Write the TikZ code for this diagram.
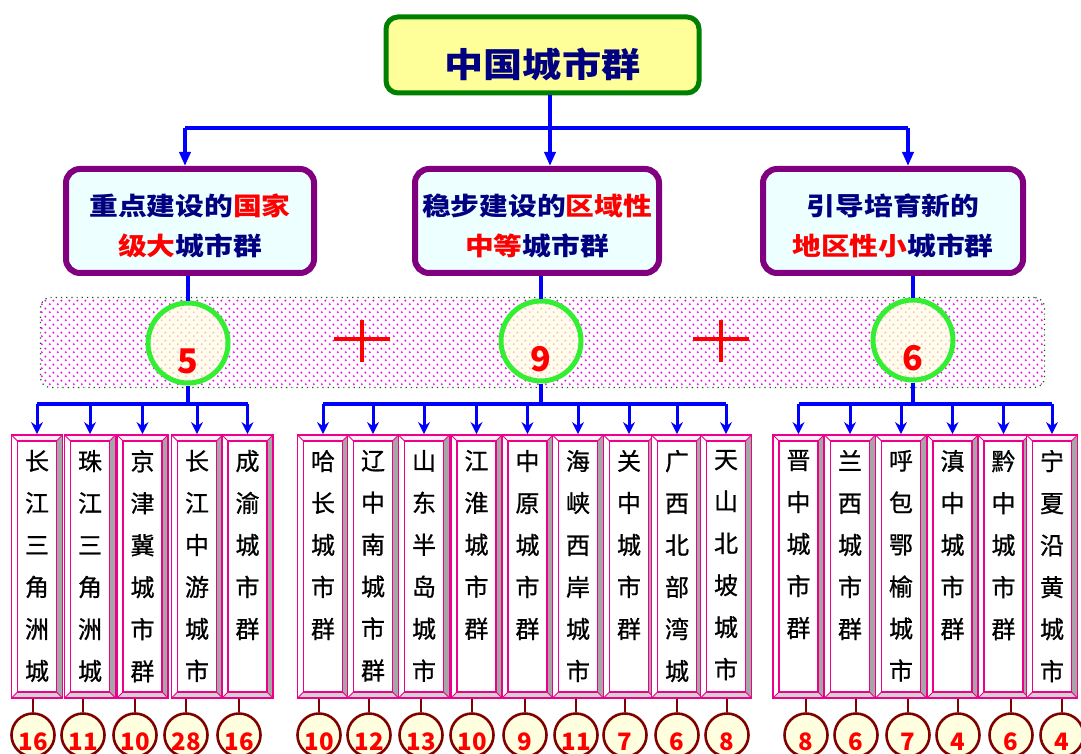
\documentclass[tikz,border=0pt]{standalone}
\usepackage{fontspec}
\setmainfont{Noto Sans CJK SC}
\newfontfamily\headfont{Noto Sans CJK SC}[FakeStretch=1.15]
\newfontfamily\cityfont{Noto Sans CJK SC}[FakeBold=0.8]
\XeTeXlinebreaklocale "zh"
\XeTeXlinebreakskip=0pt plus 1pt
\usepackage{tikz}
\usetikzlibrary{arrows.meta, patterns, positioning}

\definecolor{navy}{HTML}{000080}
\definecolor{titlegreen}{HTML}{008000}
\definecolor{titlefill}{HTML}{FFFF99}
\definecolor{catpurple}{HTML}{800080}
\definecolor{catfill}{HTML}{EEFFFF}
\definecolor{ringgreen}{HTML}{33EE33}
\definecolor{ivory}{HTML}{FFFFE0}
\definecolor{stemred}{HTML}{800000}
\definecolor{linkblue}{HTML}{0000FF}

% dotted fill of the band
\pgfdeclarepatternformonly{pinkdots}{\pgfpointorigin}{\pgfqpoint{4pt}{4pt}}{\pgfqpoint{4pt}{4pt}}{%
  \pgfpathcircle{\pgfqpoint{1pt}{1pt}}{0.6pt}%
  \pgfpathcircle{\pgfqpoint{3pt}{3pt}}{0.6pt}%
  \pgfusepath{fill}}

\newcommand{\catstrut}{\rule{0pt}{16pt}}

\begin{document}
\begin{tikzpicture}[
  x=0.5pt, y=-0.5pt,
  topbox/.style={rectangle, rounded corners=6pt, draw=titlegreen, line width=2.5pt, fill=titlefill,
    minimum width=156.5pt, minimum height=38pt, text=navy, text height=23pt, text depth=0pt,
    font=\headfont\bfseries\fontsize{17}{17}\selectfont},
  catbox/.style={rectangle, rounded corners=7pt, draw=catpurple, line width=3pt, fill=catfill,
    minimum height=52pt, text=navy, align=center,
    font=\headfont\bfseries\fontsize{12.5}{20}\selectfont},
  band/.style={rectangle, rounded corners=5pt, draw=green!40!black, dotted, line width=0.6pt,
    pattern=pinkdots, pattern color=magenta, minimum width=502pt, minimum height=45pt},
  ring/.style={circle, draw=ringgreen, line width=2.5pt, fill=ivory, fill opacity=0.7, minimum size=40pt},
  ringnum/.style={text=red, font=\bfseries\fontsize{17}{17}\selectfont},
  plus/.style={red, line width=2pt},
  citybox/.style={rectangle, draw=magenta, line width=0.9pt, fill=white, minimum width=25.5pt,
    minimum height=131.5pt, inner xsep=0pt, inner ysep=7.5pt, font=\cityfont\fontsize{12}{21}\selectfont,
    path picture={
      \path (path picture bounding box.south west) coordinate (sw)
            (path picture bounding box.north east) coordinate (ne);
      \path (sw) ++(3pt,3pt) coordinate (isw) (ne) ++(-3pt,-3pt) coordinate (ine);
      \fill[gray!70] (ne) -- (ne |- sw) -- (ine |- isw) -- (ine) -- cycle;
      \fill[gray!35] (sw) -- (ne |- sw) -- (ine |- isw) -- (isw) -- cycle;
      \fill[magenta!6] (sw |- ne) -- (ne) -- (ine) -- (isw |- ine) -- cycle;
      \draw[magenta, line width=0.9pt] (isw) rectangle (ine);
      \draw[magenta, line width=0.4pt] (sw) -- (isw) (ne) -- (ine) (sw |- ne) -- (isw |- ine) (ne |- sw) -- (ine |- isw);
    }},
  countcirc/.style={circle, draw=stemred, line width=1.3pt, fill=ivory, minimum size=21.5pt},
  counttext/.style={text=red, font=\bfseries\fontsize{12}{12}\selectfont},
  link/.style={linkblue, line width=2pt},
  toparrow/.style={linkblue, line width=2pt, -{Triangle[length=7pt, width=5.5pt]}},
  cityarrow/.style={linkblue, line width=1.5pt, -{Stealth[length=6pt, width=6pt]}},
  stem/.style={stemred, line width=1.2pt}
]
\useasboundingbox (0,0) rectangle (1081,754);
\fill[white] (0,0) rectangle (1081,754);

% Title
\node[topbox] (top) at (542.5,55) {中国城市群};

% Three classes
\node[catbox, minimum width=124pt] (nat) at (190,221)
  {\catstrut 重点建设的\textcolor{red}{国家}\\\textcolor{red}{级大}城市群};
\node[catbox, minimum width=122pt] (reg) at (537,221)
  {\catstrut 稳步建设的\textcolor{red}{区域性}\\\textcolor{red}{中等}城市群};
\node[catbox, minimum width=130pt] (loc) at (893,221)
  {\catstrut 引导培育新的\\\textcolor{red}{地区性小}城市群};

% Tree from title
\coordinate (jl) at (185,128);
\coordinate (jm) at (550,128);
\coordinate (jr) at (908,128);
\draw[link] (jm |- top.south) -- (jm);
\draw[link] (jl) -- (jr);
\draw[toparrow] (jl) -- (jl |- nat.north);
\draw[toparrow] (jm) -- (jm |- reg.north);
\draw[toparrow] (jr) -- (jr |- loc.north);

% Dotted band with counts
\node[band] (band) at (542.5,342.5) {};
\node[ring] (kn) at (188,343) {};
\node[ring] (kr) at (541,341) {};
\node[ring] (kl) at (913,340) {};
\node[ringnum] (kn5) at ([yshift=-9pt]kn.center) {5};
\node[ringnum] (kr9) at ([yshift=-9pt]kr.center) {9};
\node[ringnum] (kl6) at ([yshift=-9pt]kl.center) {6};
\draw[plus] (362,320) -- (362,362) (334,339) -- (390,339);
\draw[plus] (721,320) -- (721,362) (693,339) -- (749,339);

\draw[link] (kn.north |- nat.south) -- (kn.north);
\draw[link] (kr.north |- reg.south) -- (kr.north);
\draw[link] (kl.north |- loc.south) -- (kl.north);

\coordinate (gn) at (188,404);
\coordinate (gr) at (541,404);
\coordinate (gl) at (913,404);
\draw[link] (kn.south) -- (gn);
\draw[link] (kr.south) -- (gr);
\draw[link] (kl.south) -- (gl);

% National city groups
\foreach \bx/\txt/\cx/\num [count=\i] in {37/长江三角洲城/33/16, 90/珠江三角洲城/83/11,
    142.5/京津冀城市群/135/10, 197/长江中游城市/186/28, 247.5/成渝城市群/239/16}{
  \node[citybox] (n\i) at (\bx,566.5) {\parbox[c][116.5pt][t]{13pt}{\centering \txt}};
  \draw[cityarrow] (n\i.north |- gn) -- (n\i.north);
  \node[countcirc] (nc\i) at (\cx,735) {};
  \node[counttext] (nt\i) at ([yshift=-3.5pt]nc\i.center) {\num};
  \draw[stem] (nc\i.north |- n\i.south) -- (nc\i.north);
}
\draw[link] (n1.north |- gn) -- (n5.north |- gn);

% Regional city groups
\foreach \bx/\txt/\cx/\num [count=\i] in {323/哈长城市群/319/10, 373/辽中南城市群/369/12,
    424/山东半岛城市/421/13, 476.5/江淮城市群/472/10, 527.5/中原城市群/525/9,
    578/海峡西岸城市/576/11, 629/关中城市群/625/7, 677/广西北部湾城/677/6, 726/天山北坡城市/727/8}{
  \node[citybox] (r\i) at (\bx,566.5) {\parbox[c][116.5pt][t]{13pt}{\centering \txt}};
  \draw[cityarrow] (r\i.north |- gr) -- (r\i.north);
  \node[countcirc] (rc\i) at (\cx,735) {};
  \node[counttext] (rt\i) at ([yshift=-3.5pt]rc\i.center) {\num};
  \draw[stem] (rc\i.north |- r\i.south) -- (rc\i.north);
}
\draw[link] (r1.north |- gr) -- (r9.north |- gr);

% Local city groups
\foreach \bx/\txt/\cx/\num [count=\i] in {798.5/晋中城市群/806/8, 850/兰西城市群/856/6,
    901/呼包鄂榆城市/908/7, 952.5/滇中城市群/958/4, 1003.5/黔中城市群/1011/6, 1052/宁夏沿黄城市/1062/4}{
  \node[citybox] (l\i) at (\bx,566.5) {\parbox[c][116.5pt][t]{13pt}{\centering \txt}};
  \draw[cityarrow] (l\i.north |- gl) -- (l\i.north);
  \node[countcirc] (lc\i) at (\cx,735) {};
  \node[counttext] (lt\i) at ([yshift=-3.5pt]lc\i.center) {\num};
  \draw[stem] (lc\i.north |- l\i.south) -- (lc\i.north);
}
\draw[link] (l1.north |- gl) -- (l6.north |- gl);

\end{tikzpicture}
\end{document}
